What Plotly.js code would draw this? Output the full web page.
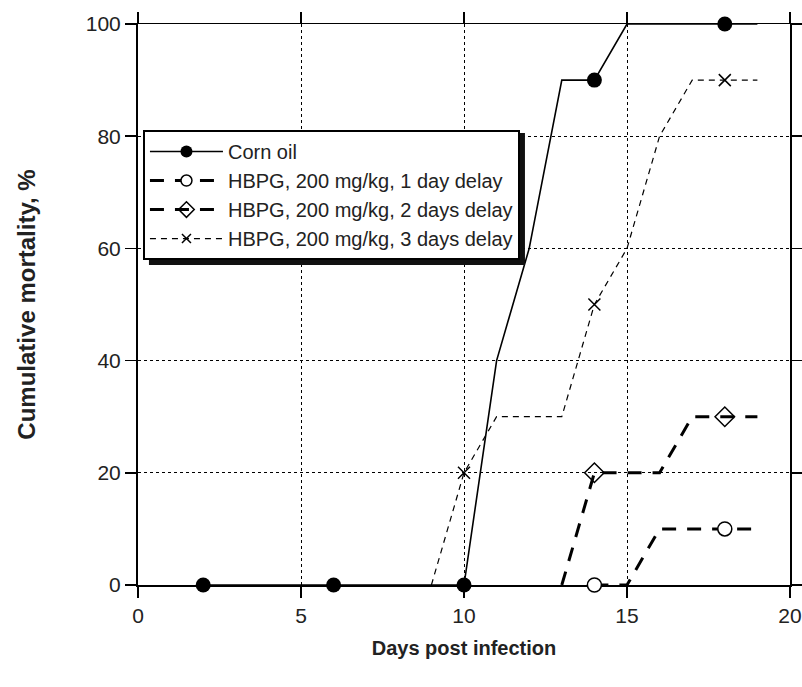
<!DOCTYPE html>
<html><head><meta charset="utf-8">
<script src="https://cdn.plot.ly/plotly-3.0.1.min.js"></script>
<style>html,body{margin:0;padding:0;background:#fff}#chart{width:802px;height:687px}</style>
</head><body><div id="chart"></div>
<script>
// ---- data ----
const seriesNames = ["Corn oil", "HBPG, 200 mg/kg, 1 day delay", "HBPG, 200 mg/kg, 2 days delay", "HBPG, 200 mg/kg, 3 days delay"];
const markerDays = [2, 6, 10, 14, 18];
const cornDays = [2, 3, 4, 5, 6, 7, 8, 9, 10, 11, 12, 13, 14, 15, 16, 17, 18, 19];
const cornMortality = [0, 0, 0, 0, 0, 0, 0, 0, 0, 40, 60, 90, 90, 100, 100, 100, 100, 100];
const oneDayDays = [14, 15, 16, 17, 18, 19];
const oneDayMortality = [0, 0, 10, 10, 10, 10];
const twoDayDays = [13, 14, 15, 16, 17, 18, 19];
const twoDayMortality = [0, 20, 20, 20, 30, 30, 30];
const threeDayDays = [9, 10, 11, 12, 13, 14, 15, 16, 17, 18, 19];
const threeDayMortality = [0, 20, 30, 30, 30, 50, 60, 80, 90, 90, 90];
const xTicks = [0, 5, 10, 15, 20];
const yTicks = [0, 20, 40, 60, 80, 100];

const FONT = "Liberation Sans, Arial, Helvetica, sans-serif";

const styles = [
  { line: { color: "#000", width: 1.6 },
    marker: { symbol: "circle", color: "#000", opacity: 1, line: { color: "#000", width: 0 } }, size: 15 },
  { line: { color: "#000", width: 3, dash: "14px,11px" },
    marker: { symbol: "circle", color: "#fff", opacity: 1, line: { color: "#000", width: 1.5 } }, size: 14 },
  { line: { color: "#000", width: 3, dash: "14px,11px" },
    marker: { symbol: "diamond-open", color: "#000", opacity: 1, line: { color: "#000", width: 1.5 } }, size: 15 },
  { line: { color: "#000", width: 1.2, dash: "6px,5px" },
    marker: { symbol: "x-thin", color: "#000", opacity: 1, line: { color: "#000", width: 1.5 } }, size: 12 }
];
const seriesData = [
  [cornDays, cornMortality], [oneDayDays, oneDayMortality],
  [twoDayDays, twoDayMortality], [threeDayDays, threeDayMortality]
];

const traces = [];
seriesData.forEach(([days, vals], i) => {
  const st = styles[i];
  const mDays = days.filter(d => markerDays.includes(d));
  const mVals = mDays.map(d => vals[days.indexOf(d)]);
  traces.push({ x: days, y: vals, mode: "lines", line: st.line, showlegend: false, cliponaxis: false, hoverinfo: "skip" });
  traces.push({ x: mDays, y: mVals, mode: "markers", showlegend: false, cliponaxis: false,
    marker: Object.assign({}, st.marker, { size: st.size }) });
  // legend entry combining the line style and marker of the series
  traces.push({ x: [null], y: [null], name: seriesNames[i], mode: "lines+markers", line: st.line,
    marker: Object.assign({}, st.marker, { size: st.size - 3 }), showlegend: true });
});

const axisCommon = {
  showline: true, linecolor: "#000", mirror: "ticks",
  ticks: "outside", ticklen: 11, tickwidth: 1.5, tickcolor: "#000",
  showgrid: true, gridcolor: "#000", gridwidth: 1, griddash: "3px,3px",
  zeroline: false, tickfont: { family: FONT, size: 21, color: "#222" },
  layer: "below traces", fixedrange: true, ticklabeloverflow: "allow"
};

const layout = {
  width: 802, height: 687,
  margin: { l: 138, r: 12, t: 24, b: 102 },
  paper_bgcolor: "#fff", plot_bgcolor: "#fff",
  font: { family: FONT, color: "#222" },
  showlegend: true,
  xaxis: Object.assign({}, axisCommon, {
    range: [0, 20], tickvals: xTicks, linewidth: 1.5,
    title: { text: "Days post infection", font: { family: FONT, size: 20, weight: "bold", color: "#222" }, standoff: 15 }
  }),
  yaxis: Object.assign({}, axisCommon, {
    range: [0, 100], tickvals: yTicks, linewidth: 2,
    title: { text: "Cumulative mortality, %", font: { family: FONT, size: 24, weight: "bold", color: "#222" }, standoff: 43 }
  }),
  legend: {
    x: 0.0076, y: 0.811, xanchor: "left", yanchor: "top",
    bgcolor: "#fff", bordercolor: "#000", borderwidth: 2,
    font: { family: FONT, size: 20, color: "#222" },
    itemwidth: 73
  }
};

Plotly.newPlot("chart", traces, layout, { displayModeBar: false, staticPlot: true }).then(gd => {
  const bg = gd.querySelector(".legend .bg");
  if (!bg) return;
  const r = bg.getBoundingClientRect();
  const g = gd.getBoundingClientRect();
  const fs = gd._fullLayout._size;
  const px = v => (v - g.left - fs.l) / fs.w;
  const py = v => 1 - (v - g.top - fs.t) / fs.h;
  const L = r.left, R = r.right + 1, T = r.top, B = r.bottom + 1, o = 5;
  const shapes = [
    { type: "rect", xref: "paper", yref: "paper", x0: px(R), x1: px(R + o), y0: py(T + 2), y1: py(B + o), fillcolor: "#111", line: { width: 0 }, layer: "above" },
    { type: "rect", xref: "paper", yref: "paper", x0: px(L + o), x1: px(R + o), y0: py(B), y1: py(B + o), fillcolor: "#111", line: { width: 0 }, layer: "above" }
  ];
  Plotly.relayout(gd, { shapes: shapes });
});
</script>
</body></html>
